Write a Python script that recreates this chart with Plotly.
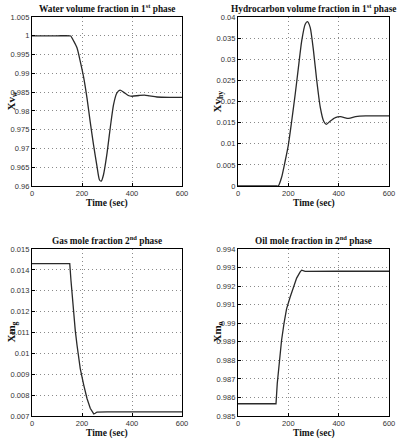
import plotly.graph_objects as go

W, H = 398, 440

# ---------------- data ----------------
t_water = [0, 100, 150, 155, 167, 180, 193, 207, 220, 233, 246, 260, 270, 277, 286, 299, 313, 326, 339, 352, 366, 385, 400, 428, 450, 470, 500, 550, 600]
v_water = [1.0, 1.0, 1.0, 0.99995, 0.99857, 0.9968, 0.9932, 0.9888, 0.9834, 0.977, 0.971, 0.9652, 0.9616, 0.9613, 0.963, 0.9682, 0.9755, 0.9816, 0.9847, 0.9855, 0.985, 0.9841, 0.9839, 0.9841, 0.9842, 0.9840, 0.9837, 0.9836, 0.9836]

t_hydro = [0, 100, 155, 160, 173, 187, 200, 213, 227, 240, 253, 267, 276, 287, 300, 313, 327, 340, 351, 367, 387, 407, 440, 467, 507, 550, 600]
v_hydro = [0.0, 0.0, 0.0, 0.0, 0.002, 0.0058, 0.0097, 0.0152, 0.0216, 0.028, 0.0343, 0.0383, 0.0389, 0.0375, 0.032, 0.0249, 0.0186, 0.0154, 0.0146, 0.0154, 0.0162, 0.0164, 0.0160, 0.0164, 0.0166, 0.0166, 0.0166]

t_gas = [0, 100, 151, 156, 161, 167, 173, 180, 187, 193, 207, 220, 233, 247, 253, 260, 300, 400, 500, 600]
v_gas = [0.0143, 0.0143, 0.0143, 0.01348, 0.01269, 0.01197, 0.0111, 0.0104, 0.00983, 0.00927, 0.00848, 0.00784, 0.00737, 0.0071, 0.00713, 0.00719, 0.0072, 0.0072, 0.0072, 0.0072]

t_oil = [0, 100, 151, 156, 164, 173, 183, 193, 207, 220, 233, 247, 253, 267, 300, 400, 500, 600]
v_oil = [0.98566, 0.98566, 0.98566, 0.98675, 0.988, 0.98907, 0.990, 0.99077, 0.9914, 0.99193, 0.99243, 0.99277, 0.99286, 0.99279, 0.9928, 0.9928, 0.9928, 0.9928]

x_ticks = [0, 200, 400, 600]
x_tick_text = ["0", "200", "400", "600"]
y1_ticks = [0.96, 0.965, 0.97, 0.975, 0.98, 0.985, 0.99, 0.995, 1.0, 1.005]
y1_text = ["0.96", "0.965", "0.97", "0.975", "0.98", "0.985", "0.99", "0.995", "1", "1.005"]
y2_ticks = [0, 0.005, 0.01, 0.015, 0.02, 0.025, 0.03, 0.035, 0.04]
y2_text = ["0", "0.005", "0.01", "0.015", "0.02", "0.025", "0.03", "0.035", "0.04"]
y3_ticks = [0.007, 0.008, 0.009, 0.010, 0.011, 0.012, 0.013, 0.014, 0.015]
y3_text = ["0.007", "0.008", "0.009", "0.01", "0.011", "0.012", "0.013", "0.014", "0.015"]
y4_ticks = [0.985, 0.986, 0.987, 0.988, 0.989, 0.990, 0.991, 0.992, 0.993, 0.994]
y4_text = ["0.985", "0.986", "0.987", "0.988", "0.989", "0.99", "0.991", "0.992", "0.993", "0.994"]

titles = ["Water volume fraction in 1<sup>st</sup> phase",
          "Hydrocarbon volume fraction in 1<sup>st</sup> phase",
          "Gas mole fraction 2<sup>nd</sup> phase",
          "Oil mole fraction in 2<sup>nd</sup> phase"]
ytitles = ["Xv<sub>w</sub>", "Xv<sub>hy</sub>", "Xm<sub>g</sub>", "Xm<sub>o</sub>"]
xtitle = "Time (sec)"

# ---------------- layout helpers ----------------
def px_x(p):
    return p / W

def px_y(p):
    return 1 - p / H

# plot areas in pixels: (left, right, top, bottom)
boxes = [(32, 182, 17, 186), (238, 389, 17, 186), (32, 182, 249, 416), (238, 389, 249, 416)]
yranges = [(0.96, 1.005), (0, 0.04), (0.007, 0.015), (0.985, 0.994)]
yticks = [(y1_ticks, y1_text), (y2_ticks, y2_text), (y3_ticks, y3_text), (y4_ticks, y4_text)]
series = [(t_water, v_water, "spline"), (t_hydro, v_hydro, "spline"), (t_gas, v_gas, "linear"), (t_oil, v_oil, "linear")]

serif = "Liberation Serif"
sans = "Liberation Sans"

fig = go.Figure()
layout = dict(width=W, height=H, margin=dict(l=0, r=0, t=0, b=0),
              paper_bgcolor="white", plot_bgcolor="white", showlegend=False,
              annotations=[])

for i in range(4):
    n = "" if i == 0 else str(i + 1)
    l, r, tp, bt = boxes[i]
    t, v, shape = series[i]
    fig.add_trace(go.Scatter(x=t, y=v, mode="lines",
                             line=dict(color="#2a2a2a", width=1.3, shape=shape, smoothing=0.6),
                             xaxis="x" + n, yaxis="y" + n, hoverinfo="skip"))
    common = dict(showline=True, mirror=True, linecolor="black", linewidth=1.2,
                  showgrid=True, gridcolor="#8a8a8a", griddash="1px,3px", gridwidth=1,
                  zeroline=False, ticks="inside", ticklen=3, tickcolor="black",
                  tickfont=dict(family=sans, size=7.5, color="#333"), automargin=False)
    layout["xaxis" + n] = dict(domain=[px_x(l), px_x(r)], range=[0, 600],
                               tickvals=x_ticks, ticktext=x_tick_text,
                               anchor="y" + n, **common)
    layout["yaxis" + n] = dict(domain=[px_y(bt), px_y(tp)], range=list(yranges[i]),
                               tickvals=yticks[i][0], ticktext=yticks[i][1],
                               anchor="x" + n, **common)
    cx = (l + r) / 2
    # title
    layout["annotations"].append(dict(text="<b>" + titles[i] + "</b>", xref="paper", yref="paper",
                                      x=px_x(cx), y=px_y(tp - 9), xanchor="center", yanchor="middle",
                                      showarrow=False, font=dict(family=serif, size=9.3, color="#111")))
    # x-axis title
    layout["annotations"].append(dict(text="<b>" + xtitle + "</b>", xref="paper", yref="paper",
                                      x=px_x(cx), y=px_y(bt + 17), xanchor="center", yanchor="middle",
                                      showarrow=False, font=dict(family=serif, size=9.5, color="#111")))
    # y-axis title
    layout["annotations"].append(dict(text="<b>" + ytitles[i] + "</b>", xref="paper", yref="paper",
                                      x=px_x(l - 21), y=px_y((tp + bt) / 2), xanchor="center", yanchor="middle",
                                      textangle=-90, showarrow=False,
                                      font=dict(family=serif, size=11, color="#111")))

fig.update_layout(**layout)
fig.write_html("out.html")
